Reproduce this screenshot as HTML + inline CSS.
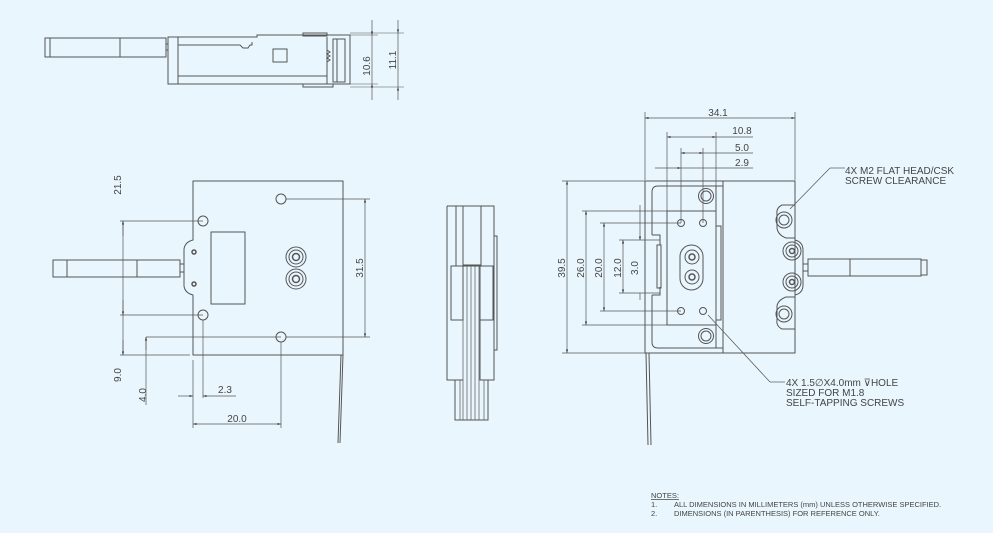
<!DOCTYPE html>
<html><head><meta charset="utf-8"><style>
html,body{margin:0;padding:0;background:#e9f6fd;}
svg{display:block;}
text{font-family:"Liberation Sans",sans-serif;fill:#444;}
</style></head><body>
<svg width="993" height="533" viewBox="0 0 993 533" xmlns="http://www.w3.org/2000/svg">
<defs>
<marker id="a" viewBox="0 0 10 10" refX="10" refY="5" markerWidth="7" markerHeight="5" orient="auto-start-reverse"><path d="M0,2 L10,5 L0,8z" fill="#333"/></marker>
</defs>
<rect width="993" height="533" fill="#e9f6fd"/>
<g fill="none" stroke="#555" stroke-width="1">
<!-- TOP VIEW -->
<rect x="45" y="38" width="121" height="19" fill="#e9f6fd"/>
<line x1="120" y1="38" x2="120" y2="57"/>
<line x1="50" y1="38" x2="50" y2="57"/>
<rect x="166" y="44" width="2" height="6"/>
<rect x="168" y="37" width="10" height="47"/>
<path d="M178 37 H257 V35 H350 V84 H178"/>
<path d="M178 45 H240 L243 48 H248 L250 45 H252 V42"/>
<line x1="178" y1="76" x2="327" y2="76"/>
<rect x="303" y="33" width="24" height="3"/>
<rect x="303" y="84" width="30" height="3"/>
<rect x="273" y="49" width="14" height="13"/>
<line x1="327" y1="37" x2="327" y2="84"/>
<rect x="333" y="39" width="12" height="43"/>
<line x1="337" y1="39" x2="337" y2="82"/>
<path d="M327 50 l3 2 l-3 2 l3 2 l-3 2 l3 2 l-3 2"/>
<line x1="350" y1="35" x2="378" y2="35" stroke-width=".6"/>
<line x1="350" y1="84" x2="378" y2="84" stroke-width=".6"/>
<line x1="350" y1="33" x2="404" y2="33" stroke-width=".6"/>
<line x1="350" y1="87" x2="404" y2="87" stroke-width=".6"/>
<line x1="372" y1="20" x2="372" y2="35" marker-end="url(#a)" stroke-width=".7"/>
<line x1="372" y1="100" x2="372" y2="84" marker-end="url(#a)" stroke-width=".7"/>
<line x1="372" y1="35" x2="372" y2="84" stroke-width=".7"/>
<line x1="398" y1="20" x2="398" y2="33" marker-end="url(#a)" stroke-width=".7"/>
<line x1="398" y1="100" x2="398" y2="87" marker-end="url(#a)" stroke-width=".7"/>
<line x1="398" y1="33" x2="398" y2="87" stroke-width=".7"/>

<!-- FRONT VIEW -->
<path d="M193 181 H343 V355 H193 V295 Q185 293 184 286 V249 Q185 242 193 240 Z" fill="#e9f6fd"/>
<rect x="53" y="260" width="127" height="17" fill="#e9f6fd"/>
<line x1="67" y1="260" x2="67" y2="277"/>
<line x1="137" y1="260" x2="137" y2="277"/>
<rect x="180" y="264" width="4" height="8"/>
<circle cx="203" cy="221" r="5"/><circle cx="281" cy="199" r="5"/>
<circle cx="203" cy="315" r="5"/><circle cx="281" cy="337" r="5"/>
<rect x="211" y="232" width="34" height="72"/>
<circle cx="296" cy="257" r="10"/><circle cx="296" cy="257" r="7"/><circle cx="296" cy="257" r="3.5" stroke-width="1.5"/>
<circle cx="296" cy="279" r="10"/><circle cx="296" cy="279" r="7"/><circle cx="296" cy="279" r="3.5" stroke-width="1.5"/>
<circle cx="194" cy="252" r="2" stroke-width="1.5"/><circle cx="194" cy="284" r="2" stroke-width="1.5"/>
<path d="M341 355 L338 443 M343 355 L340 443"/>
<g stroke-width=".7">
<line x1="120" y1="221" x2="203" y2="221"/>
<line x1="120" y1="315" x2="203" y2="315"/>
<line x1="120" y1="355" x2="190" y2="355"/>
<line x1="123" y1="221" x2="123" y2="315"/>
<line x1="123" y1="300" x2="123" y2="315" marker-end="url(#a)"/>
<line x1="123" y1="236" x2="123" y2="221" marker-end="url(#a)"/>
<line x1="123" y1="315" x2="123" y2="355"/>
<line x1="123" y1="340" x2="123" y2="355" marker-end="url(#a)"/>
<line x1="146" y1="337" x2="281" y2="337"/>
<line x1="146" y1="337" x2="146" y2="405"/>
<line x1="146" y1="350" x2="146" y2="337" marker-end="url(#a)"/>
<line x1="203" y1="320" x2="203" y2="398"/>
<line x1="193" y1="360" x2="193" y2="428"/>
<line x1="178" y1="396" x2="193" y2="396" marker-end="url(#a)"/>
<line x1="236" y1="396" x2="203" y2="396" marker-end="url(#a)"/>
<line x1="281" y1="342" x2="281" y2="428"/>
<line x1="193" y1="424" x2="281" y2="424" marker-start="url(#a)" marker-end="url(#a)"/>
<line x1="286" y1="199" x2="370" y2="199"/>
<line x1="286" y1="337" x2="370" y2="337"/>
<line x1="365" y1="199" x2="365" y2="337" marker-start="url(#a)" marker-end="url(#a)"/>
</g>

<!-- SIDE VIEW -->
<path d="M447 206 H494 V266 M447 206 V380 H463"/>
<line x1="456" y1="206" x2="456" y2="266"/>
<rect x="463" y="206" width="18" height="59"/>
<rect x="451" y="266" width="12" height="54"/>
<rect x="480" y="266" width="13" height="54"/>
<path d="M463 320 H451 M480 320 V380 H494 V320"/>
<rect x="494" y="236" width="3" height="114"/>
<path d="M455 380 V420 H488 V380"/>
<path d="M460 380V420 M463 266V420 M467 266V420 M471 266V420 M475 266V420 M479 266V420 M484 380V420" stroke-width=".7"/>
<line x1="463" y1="266" x2="480" y2="266"/>

<!-- RIGHT VIEW -->
<rect x="645" y="181" width="150" height="172" fill="#e9f6fd"/>
<path d="M723 186 H658 Q652 186 652 192 V235 M652 295 V342 Q652 348 658 348 H723"/>
<path d="M652 235 H660 V245 M652 295 H660 V287"/>
<line x1="723" y1="181" x2="723" y2="353"/>
<line x1="716" y1="186" x2="716" y2="348"/>
<rect x="667" y="211" width="49" height="114"/>
<rect x="716" y="226" width="5" height="94"/>
<rect x="657" y="245" width="4" height="43"/>
<circle cx="706" cy="196" r="7.5"/><circle cx="706" cy="196" r="5"/>
<circle cx="706" cy="336" r="7.5"/><circle cx="706" cy="336" r="5"/>
<circle cx="681" cy="223" r="3.5"/><circle cx="703" cy="223" r="3.5"/>
<circle cx="681" cy="311" r="3.5"/><circle cx="703" cy="311" r="3.5"/>
<rect x="680" y="245" width="23" height="45" rx="11.5"/>
<circle cx="692" cy="257" r="7"/><circle cx="692" cy="257" r="3" stroke-width="1.5"/>
<circle cx="692" cy="277" r="7"/><circle cx="692" cy="277" r="3" stroke-width="1.5"/>
<path d="M795 205 H782 Q776 208 777 214 V228 Q778 235 786 238 H795"/>
<path d="M795 297 H786 Q778 300 777 306 V320 Q776 326 782 329 H795"/>
<circle cx="784" cy="220" r="8"/><circle cx="784" cy="220" r="5"/>
<circle cx="784" cy="314" r="8"/><circle cx="784" cy="314" r="5"/>
<path d="M795 240 Q803 242 803 250 V285 Q803 293 795 295"/>
<circle cx="792" cy="251" r="9"/><circle cx="792" cy="251" r="6"/><circle cx="792" cy="251" r="2.5" stroke-width="1.5"/>
<circle cx="792" cy="282" r="9"/><circle cx="792" cy="282" r="6"/><circle cx="792" cy="282" r="2.5" stroke-width="1.5"/>
<rect x="803" y="264" width="5" height="7"/>
<rect x="808" y="259" width="113" height="17" fill="#e9f6fd"/>
<rect x="921" y="260" width="6" height="15"/>
<line x1="850" y1="259" x2="850" y2="276"/>
<path d="M646 353 L648 445 M649 353 L651 445"/>
<g stroke-width=".7">
<line x1="645" y1="112" x2="645" y2="180"/>
<line x1="795" y1="112" x2="795" y2="180"/>
<line x1="645" y1="118" x2="795" y2="118" marker-start="url(#a)" marker-end="url(#a)"/>
<line x1="667" y1="132" x2="667" y2="211"/>
<line x1="716" y1="132" x2="716" y2="186"/>
<line x1="667" y1="137" x2="716" y2="137" marker-start="url(#a)" marker-end="url(#a)"/>
<line x1="716" y1="137" x2="753" y2="137"/>
<line x1="681" y1="148" x2="681" y2="223"/>
<line x1="703" y1="148" x2="703" y2="223"/>
<line x1="681" y1="153" x2="703" y2="153" marker-start="url(#a)" marker-end="url(#a)"/>
<line x1="703" y1="153" x2="753" y2="153"/>
<line x1="655" y1="168" x2="681" y2="168" marker-end="url(#a)"/>
<line x1="681" y1="168" x2="753" y2="168"/>
<line x1="562" y1="181" x2="645" y2="181"/>
<line x1="562" y1="353" x2="645" y2="353"/>
<line x1="567" y1="181" x2="567" y2="353" marker-start="url(#a)" marker-end="url(#a)"/>
<line x1="582" y1="211" x2="667" y2="211"/>
<line x1="582" y1="325" x2="667" y2="325"/>
<line x1="586" y1="211" x2="586" y2="325" marker-start="url(#a)" marker-end="url(#a)"/>
<line x1="600" y1="223" x2="681" y2="223"/>
<line x1="600" y1="311" x2="681" y2="311"/>
<line x1="604" y1="223" x2="604" y2="311" marker-start="url(#a)" marker-end="url(#a)"/>
<line x1="619" y1="240" x2="660" y2="240"/>
<line x1="619" y1="293" x2="660" y2="293"/>
<line x1="623" y1="240" x2="623" y2="293" marker-start="url(#a)" marker-end="url(#a)"/>
<line x1="640" y1="205" x2="640" y2="240" marker-end="url(#a)"/>
<line x1="640" y1="293" x2="640" y2="300"/>
<line x1="790" y1="209" x2="830" y2="168"/>
<line x1="830" y1="168" x2="845" y2="168"/>
<line x1="708" y1="315" x2="770" y2="382"/>
<line x1="770" y1="382" x2="785" y2="382"/>
</g>
</g>
<g font-size="10">
<text transform="translate(370,66) rotate(-90)" text-anchor="middle">10.6</text>
<text transform="translate(396,60) rotate(-90)" text-anchor="middle">11.1</text>
<text transform="translate(121,185) rotate(-90)" text-anchor="middle">21.5</text>
<text transform="translate(121,375) rotate(-90)" text-anchor="middle">9.0</text>
<text transform="translate(146,395) rotate(-90)" text-anchor="middle">4.0</text>
<text x="225" y="393" text-anchor="middle">2.3</text>
<text x="237" y="422" text-anchor="middle">20.0</text>
<text transform="translate(363,268) rotate(-90)" text-anchor="middle">31.5</text>
<text x="718" y="116" text-anchor="middle">34.1</text>
<text x="742" y="134" text-anchor="middle">10.8</text>
<text x="742" y="151" text-anchor="middle">5.0</text>
<text x="742" y="166" text-anchor="middle">2.9</text>
<text transform="translate(565,268) rotate(-90)" text-anchor="middle">39.5</text>
<text transform="translate(584,268) rotate(-90)" text-anchor="middle">26.0</text>
<text transform="translate(602,268) rotate(-90)" text-anchor="middle">20.0</text>
<text transform="translate(621,268) rotate(-90)" text-anchor="middle">12.0</text>
<text transform="translate(638,268) rotate(-90)" text-anchor="middle">3.0</text>
<text x="845" y="174">4X M2 FLAT HEAD/CSK</text>
<text x="845" y="184">SCREW CLEARANCE</text>
<text x="786" y="386">4X 1.5∅X4.0mm ⊽HOLE</text>
<text x="786" y="396">SIZED FOR M1.8</text>
<text x="786" y="406">SELF-TAPPING SCREWS</text>
</g>
<g font-size="7.5">
<text x="651" y="498" text-decoration="underline">NOTES:</text>
<text x="651" y="507">1.</text><text x="674" y="507">ALL DIMENSIONS IN MILLIMETERS (mm) UNLESS OTHERWISE SPECIFIED.</text>
<text x="651" y="516">2.</text><text x="674" y="516">DIMENSIONS (IN PARENTHESIS) FOR REFERENCE ONLY.</text>
</g>
</svg>
</body></html>
